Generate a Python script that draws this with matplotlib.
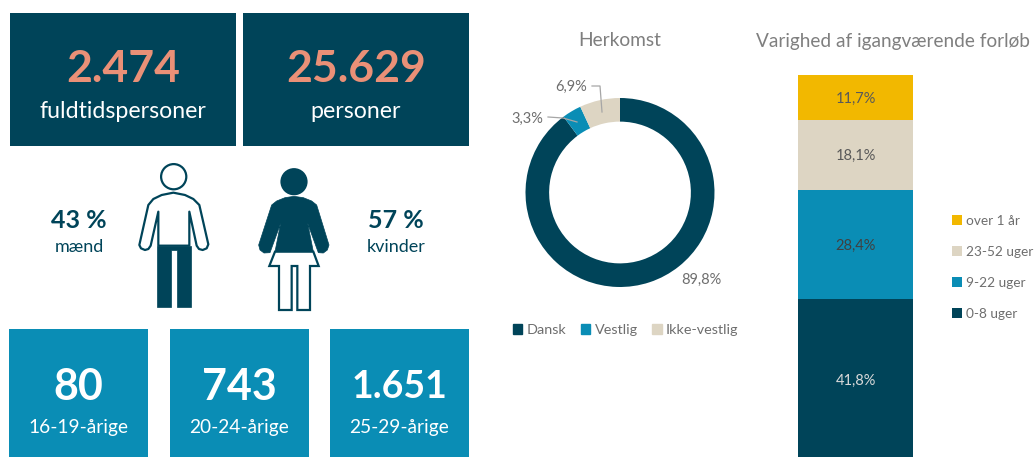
import matplotlib
matplotlib.use('Agg')
import matplotlib.pyplot as plt
from matplotlib.patches import Rectangle, Circle, Polygon, Patch

plt.rcParams['font.family'] = ['Lato', 'DejaVu Sans']

W, H = 1034, 457

# Data
top_values = ['2.474', '25.629']
top_labels = ['fuldtidspersoner', 'personer']
gender_values = ['43 %', '57 %']
gender_labels = ['mænd', 'kvinder']
age_values = ['80', '743', '1.651']
age_labels = ['16-19-årige', '20-24-årige', '25-29-årige']

origin_names = ['Dansk', 'Vestlig', 'Ikke-vestlig']
origin_values = [89.8, 3.3, 6.9]
origin_text = ['89,8%', '3,3%', '6,9%']

duration_names = ['0-8 uger', '9-22 uger', '23-52 uger', 'over 1 år']
duration_values = [41.8, 28.4, 18.1, 11.7]
duration_text = ['41,8%', '28,4%', '18,1%', '11,7%']

DARK = '#004459'
BLUE = '#0A8DB5'
BEIGE = '#DDD5C3'
GOLD = '#F2B800'
SALMON = '#EA9077'
GREY = '#7F7F7F'
LABEL = '#6E6E6E'


def axes_px(x0, y0, x1, y1):
    # axes from pixel box, y counted from the top
    return fig.add_axes([x0 / W, 1 - y1 / H, (x1 - x0) / W, (y1 - y0) / H])


def zoomed(points):
    return [(130 + x / 3, 155 + y / 3) for x, y in points]


fig = plt.figure(figsize=(W / 100, H / 100), dpi=100)

# page layer in pixel coordinates
page = fig.add_axes([0, 0, 1, 1])
page.set_xlim(0, W)
page.set_ylim(H, 0)
page.axis('off')

# top tiles
for i, box in enumerate([(10, 13, 226, 133), (243, 13, 226, 133)]):
    x, y, w, h = box
    page.add_patch(Rectangle((x, y), w, h, color=DARK, lw=0))
    page.text(x + w / 2 + 0.5, 69, top_values[i], color=SALMON, fontsize=32, fontweight='bold',
              ha='center', va='center')
    page.text(x + w / 2, 111, top_labels[i], color='white', fontsize=16.7, ha='center', va='center')

# gender text
for i, cx in enumerate([79, 396]):
    page.text(cx, 221, gender_values[i], color=DARK, fontsize=18, fontweight='bold', ha='center', va='center')
    page.text(cx, 247, gender_labels[i], color=DARK, fontsize=13, ha='center', va='center')

# man icon
page.add_patch(Circle((173.7, 176.7), 12.6, fc='white', ec=DARK, lw=1.6))
man_body = [(85, 272), (85, 170), (62, 272), (55, 282), (45, 285), (33, 280), (28, 270), (55, 150), (70, 132),
            (95, 120), (130, 113), (165, 120), (190, 132), (208, 150), (235, 268), (230, 280), (218, 285), (207, 282),
            (200, 272), (178, 170), (178, 272)]
page.add_patch(Polygon(zoomed(man_body), closed=True, fc='white', ec=DARK, lw=1.6, joinstyle='round'))
man_legs = [(82, 272), (182, 272), (182, 455), (140, 455), (140, 285), (123, 285), (123, 455), (82, 455)]
page.add_patch(Polygon(zoomed(man_legs), closed=True, fc=DARK, ec=DARK, lw=0.5))

# woman icon
page.add_patch(Circle((294, 181.7), 13.6, fc=DARK, ec=DARK, lw=0))
woman_body = [(425, 150), (440, 138), (465, 128), (492, 124), (520, 128), (545, 138), (560, 150), (597, 270),
              (592, 285), (580, 294), (565, 293), (533, 205), (550, 290), (435, 290), (452, 205), (420, 293),
              (402, 294), (390, 285), (386, 270)]
page.add_patch(Polygon(zoomed(woman_body), closed=True, fc=DARK, ec=DARK, lw=0.5))
skirt = [(435, 290), (418, 333), (447, 333), (447, 465), (485, 465), (485, 333), (502, 333), (502, 465), (540, 465),
         (540, 333), (566, 333), (550, 290)]
page.add_patch(Polygon(zoomed(skirt), closed=True, fc='white', ec=DARK, lw=1.6))

# age tiles
age_sizes = [31, 31, 27]
for i, x in enumerate([9, 170, 330]):
    page.add_patch(Rectangle((x, 329), 139, 128, color=BLUE, lw=0))
    page.text(x + 69.5, 387, age_values[i], color='white', fontsize=age_sizes[i], fontweight='bold',
              ha='center', va='center')
    page.text(x + 69.5, 428, age_labels[i], color='white', fontsize=13.8, ha='center', va='center')

# titles
page.text(620, 41, 'Herkomst', color=GREY, fontsize=13.8, ha='center', va='center')
page.text(893, 42, 'Varighed af igangværende forløb', color=GREY, fontsize=13.7, ha='center', va='center')

# donut
donut = axes_px(525.5, 98, 714.5, 287)
origin_colors = [DARK, BLUE, BEIGE]
donut.pie(origin_values, colors=origin_colors, startangle=90, counterclock=False, radius=1,
          wedgeprops={'width': 0.25, 'linewidth': 0})
donut.set_xlim(-1, 1)
donut.set_ylim(-1, 1)
page.text(681, 280, origin_text[0], color=LABEL, fontsize=10.5, ha='left', va='center')
page.text(527, 119, origin_text[1], color=LABEL, fontsize=10.5, ha='center', va='center')
page.text(571, 87, origin_text[2], color=LABEL, fontsize=10.5, ha='center', va='center')
page.plot([548, 563, 577], [117, 118, 122], color='#A6A6A6', lw=0.9, zorder=5)
page.plot([592, 600, 602], [86, 86, 112], color='#A6A6A6', lw=0.9, zorder=5)
page.set_zorder(2)
page.patch.set_alpha(0)

handles = [Patch(color=c, label=n) for c, n in zip(origin_colors, origin_names)]
fig.legend(handles=handles, loc='center left', bbox_to_anchor=(513 / W, 1 - 330 / H), ncol=3, frameon=False,
           fontsize=10.4, labelcolor=LABEL, handlelength=0.65, handleheight=0.65, handletextpad=0.3,
           columnspacing=1.0, borderpad=0, borderaxespad=0)

# stacked bar, runs past the bottom edge of the page
bar = axes_px(798, 75, 913, 460)
duration_colors = [DARK, BLUE, BEIGE, GOLD]
bottom = 0
bars = []
for i in range(len(duration_values)):
    b = bar.bar(0, duration_values[i], width=1, bottom=bottom, color=duration_colors[i], label=duration_names[i])
    bars.append(b[0])
    text_color = '#D9D9D9' if i == 0 else '#404040' if i == 1 else '#595959'
    bar.text(0, bottom + duration_values[i] / 2 - 0.3, duration_text[i], color=text_color, fontsize=10.5,
             ha='center', va='center')
    bottom += duration_values[i]
bar.set_xlim(-0.5, 0.5)
bar.set_ylim(0, 100)
bar.axis('off')

fig.legend(bars[::-1], duration_names[::-1], loc='center left', bbox_to_anchor=(952 / W, 1 - 267.5 / H), frameon=False,
           fontsize=9.8, labelcolor=LABEL, handlelength=0.72, handleheight=0.72, handletextpad=0.3,
           labelspacing=1.4, borderpad=0, borderaxespad=0)

fig.savefig('out.png', dpi=100)
